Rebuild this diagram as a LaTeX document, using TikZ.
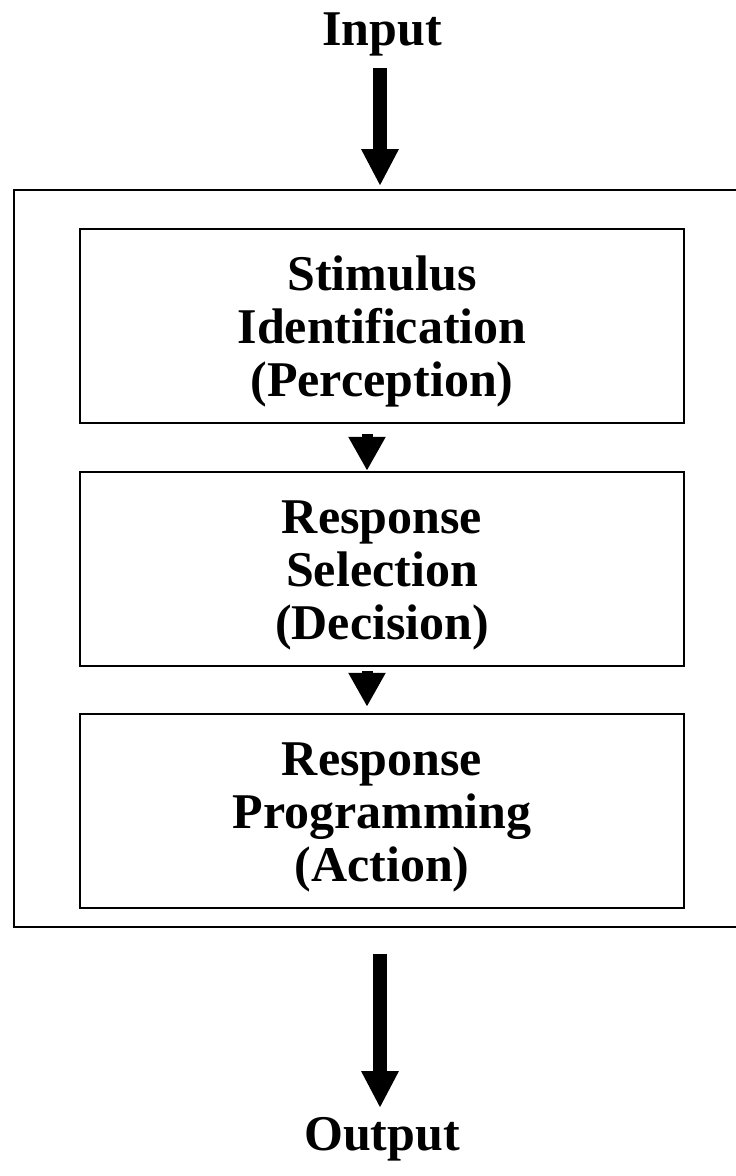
\documentclass[tikz,border=0pt]{standalone}
\usepackage{fontspec}
\setmainfont{Liberation Serif}
\usetikzlibrary{arrows.meta}
\tikzset{
  stage/.style={draw, line width=2.5pt, minimum width=604pt, minimum height=194pt,
    text height=152pt, text depth=11pt,
    align=center, font=\fontsize{50}{53}\selectfont\bfseries},
  label/.style={anchor=base, font=\fontsize{50}{54}\selectfont\bfseries},
  bigarrow/.style={line width=14pt, -{Triangle[width=35pt,length=37pt]}},
  smallarrow/.style={line width=11pt, -{Triangle[width=35pt,length=34pt]}}
}
\begin{document}
\begin{tikzpicture}[x=1pt, y=-1pt]
\useasboundingbox (0,0) rectangle (736,1176);
% outer frame, its right side runs off the page
\draw[line width=2.5pt] (14,190) rectangle (760,927);
\node[label] (in) at (382,45) {Input};
\node[label] (out) at (382,1150) {Output};
\coordinate (intop) at (380,68);
\coordinate (inend) at (380,186);
\coordinate (outtop) at (380,954);
\coordinate (outend) at (380,1108);
% the three stages
\node[stage] (perc) at (382,326) {Stimulus\\Identification\\(Perception)};
\node[stage] (decide) at (382,569) {Response\\Selection\\(Decision)};
\node[stage] (act) at (382,811) {Response\\Programming\\(Action)};
\draw[bigarrow] (intop) -- (inend);
\draw[bigarrow] (outtop) -- (outend);
\draw[smallarrow] ([xshift=-15pt,yshift=-10pt]perc.south) -- ([xshift=-15pt]decide.north);
\draw[smallarrow] ([xshift=-15pt,yshift=-4pt]decide.south) -- ([xshift=-15pt,yshift=6pt]act.north);
\end{tikzpicture}
\end{document}
